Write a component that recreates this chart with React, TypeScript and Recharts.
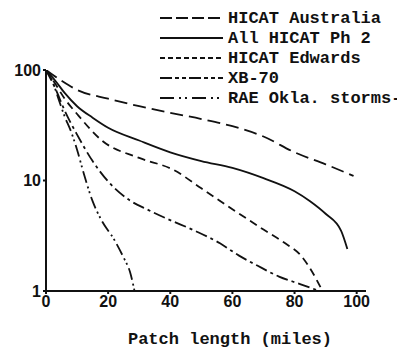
import { LineChart, Line, XAxis, YAxis } from "recharts";

const X_TICKS = [0, 20, 40, 60, 80, 100];
const Y_TICKS = [1, 10, 100];

const australiaX = [0, 5, 10, 20, 30, 40, 50, 60, 70, 80, 90, 99];
const australiaY = [100, 80, 66, 55, 47, 41, 36, 31, 25, 18, 14, 11];

const allHicatX = [0, 3, 6, 10, 15, 20, 30, 40, 50, 60, 70, 80, 85, 90, 95, 97];
const allHicatY = [100, 80, 62, 47, 37, 30, 23, 18, 15, 13, 10.5, 8, 6.5, 5, 3.5, 2.4];

const edwardsX = [0, 3, 6, 10, 18, 30, 41, 50, 60, 70, 77, 82, 85, 89];
const edwardsY = [100, 75, 55, 40, 23, 16, 12.5, 8.5, 5.5, 3.6, 2.7, 2.1, 1.6, 1.0];

const xb70X = [0, 3, 6, 10, 15, 20, 27, 33, 39, 48, 56, 62, 68, 75, 82, 88];
const xb70Y = [100, 68, 43, 26, 15, 9.8, 6.6, 5.4, 4.5, 3.5, 2.7, 2.1, 1.7, 1.35, 1.15, 1.0];

const raeX = [0, 2, 4, 6, 8, 10, 12, 15, 18, 22, 25, 27, 28.5];
const raeY = [100, 80, 55, 38, 28, 19, 12, 6.5, 4.3, 2.9, 2.0, 1.5, 1.0];

const toRows = (xs: number[], ys: number[]) => xs.map((x, i) => ({ x, y: ys[i] }));

const SERIES = [
  { name: "HICAT Australia", data: toRows(australiaX, australiaY), dash: "13 6", legendDash: "12 4" },
  { name: "All HICAT Ph 2", data: toRows(allHicatX, allHicatY), dash: undefined, legendDash: undefined },
  { name: "HICAT Edwards", data: toRows(edwardsX, edwardsY), dash: "8 5", legendDash: "5 3" },
  { name: "XB-70", data: toRows(xb70X, xb70Y), dash: "12 4 3 4", legendDash: "12 3 4 3 4 3" },
  { name: "RAE Okla. storms", data: toRows(raeX, raeY), dash: "12 4 2 3 2 4", legendDash: "14 5 2 4 2 5" },
];

const MONO = "'Liberation Mono', 'DejaVu Sans Mono', monospace";
const SANS = "'Liberation Sans', Arial, sans-serif";

function LegendBox() {
  return (
    <div
      style={{
        position: "absolute",
        top: 8,
        left: 152,
        fontFamily: MONO,
        fontWeight: 700,
        fontSize: 17,
        color: "#111",
      }}
    >
      {SERIES.map((s) => (
        <div key={s.name} style={{ display: "flex", alignItems: "center", height: 20 }}>
          <svg width={64} height={6} style={{ marginRight: 4 }}>
            <line x1={0} y1={3} x2={63} y2={3} stroke="#111" strokeWidth={2} strokeDasharray={s.legendDash} />
          </svg>
          <span style={{ whiteSpace: "nowrap" }}>
            {s.name}
            {s.name === "RAE Okla. storms" ? "-" : ""}
          </span>
        </div>
      ))}
    </div>
  );
}

export default function App() {
  return (
    <div style={{ position: "relative", width: 389, height: 351, marginTop: -8 }}>
      <LineChart width={389} height={351} margin={{ top: 70, right: 31, bottom: 0, left: 0 }}>
        <XAxis
          dataKey="x"
          type="number"
          domain={[0, 103]}
          ticks={X_TICKS}
          allowDuplicatedCategory={false}
          stroke="#111"
          strokeWidth={2}
          tickSize={3}
          tick={{ fill: "#111", fontFamily: SANS, fontWeight: 700, fontSize: 16 }}
          height={60}
          label={{
            value: "Patch length (miles)",
            position: "insideBottom",
            offset: 7,
            dx: 24,
            fill: "#111",
            fontFamily: MONO,
            fontWeight: 700,
            fontSize: 17,
          }}
        />
        <YAxis
          dataKey="y"
          scale="log"
          domain={[1, 100]}
          ticks={Y_TICKS}
          allowDataOverflow
          stroke="#111"
          strokeWidth={2}
          tickSize={3}
          width={38}
          tick={{ fill: "#111", fontFamily: SANS, fontWeight: 700, fontSize: 16 }}
        />
        {SERIES.map((s) => (
          <Line
            key={s.name}
            data={s.data}
            dataKey="y"
            type="monotone"
            stroke="#111"
            strokeWidth={1.8}
            strokeDasharray={s.dash}
            dot={false}
            isAnimationActive={false}
          />
        ))}
      </LineChart>
      <LegendBox />
    </div>
  );
}
